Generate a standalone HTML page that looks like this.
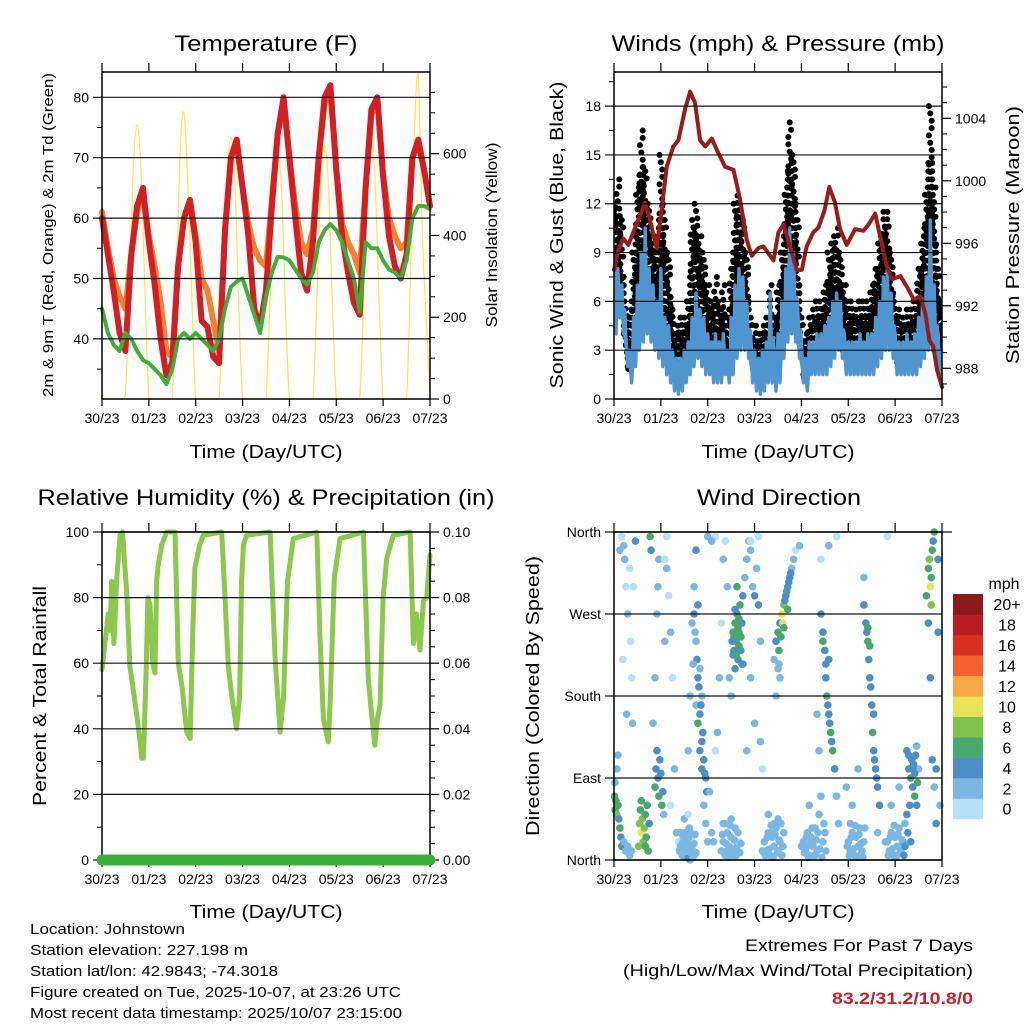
<!DOCTYPE html>
<html><head><meta charset="utf-8"><style>
html,body{margin:0;padding:0;background:#fff;}
svg{display:block;font-family:"Liberation Sans",Arial,sans-serif;}
</style></head><body>
<svg id="chart" xmlns="http://www.w3.org/2000/svg" width="1024" height="1024" viewBox="0 0 1024 1024">
<rect width="1024" height="1024" fill="#fff"/>
<g id="layer"></g>
<g font-size="22" text-anchor="middle" fill="#000">
<text x="266" y="51" textLength="183" lengthAdjust="spacingAndGlyphs">Temperature (F)</text>
<text x="778" y="51" textLength="333" lengthAdjust="spacingAndGlyphs">Winds (mph) &amp; Pressure (mb)</text>
<text x="266" y="505" textLength="457" lengthAdjust="spacingAndGlyphs">Relative Humidity (%) &amp; Precipitation (in)</text>
<text x="779" y="505" textLength="164" lengthAdjust="spacingAndGlyphs">Wind Direction</text>
</g>
<g font-size="18" text-anchor="middle" fill="#000">
<text x="266" y="458" textLength="153" lengthAdjust="spacingAndGlyphs">Time (Day/UTC)</text>
<text x="778" y="458" textLength="153" lengthAdjust="spacingAndGlyphs">Time (Day/UTC)</text>
<text x="266" y="918" textLength="153" lengthAdjust="spacingAndGlyphs">Time (Day/UTC)</text>
<text x="778" y="918" textLength="153" lengthAdjust="spacingAndGlyphs">Time (Day/UTC)</text>
<text transform="translate(53,235) rotate(-90)" font-size="15" textLength="324" lengthAdjust="spacingAndGlyphs">2m &amp; 9m T (Red, Orange) &amp; 2m Td (Green)</text>
<text transform="translate(497,235) rotate(-90)" font-size="16" textLength="185" lengthAdjust="spacingAndGlyphs">Solar Insolation (Yellow)</text>
<text transform="translate(563,235) rotate(-90)" textLength="307" lengthAdjust="spacingAndGlyphs">Sonic Wind &amp; Gust (Blue, Black)</text>
<text transform="translate(1019,235) rotate(-90)" textLength="258" lengthAdjust="spacingAndGlyphs">Station Pressure (Maroon)</text>
<text transform="translate(46,696) rotate(-90)" textLength="220" lengthAdjust="spacingAndGlyphs">Percent &amp; Total Rainfall</text>
<text transform="translate(539,696) rotate(-90)" textLength="280" lengthAdjust="spacingAndGlyphs">Direction (Colored By Speed)</text>
</g>
<g font-size="15" fill="#000">
<text x="30" y="934" textLength="155" lengthAdjust="spacingAndGlyphs">Location: Johnstown</text>
<text x="30" y="955" textLength="218" lengthAdjust="spacingAndGlyphs">Station elevation: 227.198 m</text>
<text x="30" y="976" textLength="248" lengthAdjust="spacingAndGlyphs">Station lat/lon: 42.9843; -74.3018</text>
<text x="30" y="997" textLength="371" lengthAdjust="spacingAndGlyphs">Figure created on Tue, 2025-10-07, at 23:26 UTC</text>
<text x="30" y="1018" textLength="372" lengthAdjust="spacingAndGlyphs">Most recent data timestamp: 2025/10/07 23:15:00</text>
</g>
<g font-size="17" fill="#000" text-anchor="end">
<text x="973" y="951" textLength="228" lengthAdjust="spacingAndGlyphs">Extremes For Past 7 Days</text>
<text x="973" y="976" textLength="350" lengthAdjust="spacingAndGlyphs">(High/Low/Max Wind/Total Precipitation)</text>
<text x="973" y="1004" fill="#C8202A" font-weight="bold" textLength="141" lengthAdjust="spacingAndGlyphs">83.2/31.2/10.8/0</text>
</g>
</svg>
<script>
const dayLabels=["30/23","01/23","02/23","03/23","04/23","05/23","06/23","07/23"];
const temp2m=[60,54,48,41,38,54,62,65,56,49,40,34,36,52,60,63,56,43,42,37,36,58,70,73,65,57,45,42,48,62,74,80,70,60,51,48,56,70,80,82,68,57,51,46,44,65,78,80,67,57,52,50,54,70,73,68,62];
const temp9m=[61,55,50,47,45,54,61,64,57,52,46,38,37,52,60,63,57,50,48,43,38,58,70,72,65,59,55,53,52,63,74,79,70,62,56,54,58,70,79,81,68,59,56,54,51,65,77,80,67,60,57,55,56,70,72,68,62];
const dewpoint=[45,41,39,38,41,40,38,36.5,36,35,34,32.5,35,40,41,40,41,40,39,38,40,45,48.6,49.5,50,47,44,41,47,51,53.6,53.5,53,51.5,50,49,51,56,58,59,58,56,53,50,44.5,56,55,55,53,51.5,51,50,53,60,62,62,61.5];
const solar=[0,0,0,0,0,0,10,250,560,670,560,260,0,0,0,0,0,0,0,260,600,700,520,250,0,0,0,0,0,0,0,240,540,640,540,230,0,0,0,0,0,0,0,230,520,605,510,220,0,0,0,0,0,0,0,240,530,620,520,230,0,0,0,0,0,0,0,240,540,630,520,230,0,0,0,0,0,0,0,300,650,790,420,200,20];
const windHigh=[8.5,8,7,4,3,5,7,9,10.5,8,7,6,8,5,4.5,3,2.5,2.5,3,3.5,5,6.5,5.5,5,4,3.5,4,3.5,4,3,5,7,8,7.5,6,4,3,2.5,3,3.5,6.5,3,4,6,8,10.5,9,6,3.5,2.5,3.5,3.5,4,4,4.5,5,6,6.5,6,4,3.5,3.5,3.5,4,3.5,4,4,5,6,7.5,8,6.5,4,3.5,3.5,4,3.5,4,5,6,7.5,11,7,4,3];
const windLow=[4,5,4,2,1,2,3,3.5,4,3.5,3,2.5,2,1.5,1,0.5,0.3,0.5,1,1.5,2,2.5,2,1.5,1.5,1,1,1,1.5,1,1.5,2.5,3,3,2.5,1,0.5,0.3,0.5,1,1,0.5,1,2.5,3.5,4,3.5,2.5,1,0.5,1.5,1.5,1.5,1.5,1.5,2,2.5,3,2.5,1.5,1.5,1.5,1.5,1.5,1.5,1.5,1.5,2,2.5,3,3,2.5,1.5,1.5,1.5,1.5,1.5,1.5,2,2.5,3,3,2,1.5,1];
const gust=[12,13.5,11,6,5,9,13,16.5,14,12,10,9,15,11,9,5.5,4.5,5,5,6,11,12,10,9,7,6,7.5,6,7,5,8,12,12.5,11,9,5,4.5,4,4.5,5,7,5,7,9,13,17,15,11,5,4,5,5.5,6,6,7,9,10,10.5,9,7,6,6,5.5,6,6,6,7,8,10,11.5,11.5,9,6,5.5,5,5.5,5.5,6,8,10,13,18,13,8,6];
const pressureHours=[0,2.2,4.8,7.3,9.9,15.9,18.4,21.8,24.4,27,30.4,33,36.4,39,41.5,44.1,46.7,50.1,52.6,56.9,61.2,64.6,68,70.6,74,76.5,81.7,84.2,86.8,90.2,93.6,96.2,98.7,102.1,104.7,107.8,110.3,113.2,115.8,119.2,123.5,127.8,130.4,133.8,136.4,139.8,142.4,146.7,150.1,153.5,156.9,159.5,161.5,163.5,165.5,168];
const pressureValues=[994.3,995.6,996.3,995.9,996.7,998.6,997.5,995.7,998.1,1000.9,1002.2,1002.6,1004.6,1005.7,1005,1002.6,1002.2,1002.7,1002,1000.9,1000.7,998.8,996.2,995.2,995.7,995.8,994.9,996.7,997.2,995.8,994.3,994.3,995.8,996.7,997,998.1,999.6,998.6,996.9,995.9,996.9,996.8,997.2,997.9,996.4,994.5,993.7,993.9,993.2,992.4,992.6,991.5,989.8,989.4,987.9,986.8];
const rhHours=[0,1.5,3.2,4.2,4.9,6.1,7.5,9.2,10.5,12.6,14.3,16,17.8,19.5,20.3,21.2,22.5,23.5,24.6,26,27.1,28,28.8,30.6,33.1,37.4,39.1,41,43.4,45.1,46.5,47.6,50,51.9,61.3,63,64.7,66.5,68.9,70.5,71.5,72.4,74,86.1,88.6,90,91.2,93,95,98,110,111.5,113.4,115.9,117,119,121.9,133.9,136.4,138,139.8,141,142.4,144,145.8,149.2,157.8,159.5,161,162.9,164.6,166.3,168];
const rhValues=[58,66,75,70,85,66,85,99,100,82,59,52,44,36,31,31,55,80,78,60,57,85,90,96,100,100,60,53,39,37,70,89,96,99,100,80,59,50,40,50,85,96,99,100,62,50,39,50,85,98,100,70,43,36,50,86,98,100,55,45,35,43,47,80,92,99,100,66,75,64,79,80,93];
const precipHours=[0,168];
const precipValues=[0,0];
const speedColors=["#B5E1F7","#7AB8E3","#4A8FC7","#48A76B","#7DC24A","#E6E25A","#F7A844","#F0622A","#D7301F","#B81C22","#8B1A1A"];
const speedLabels=["0","2","4","6","8","10","12","14","16","18","20+"];
const windDirObs=[[0.3,70,6],[0.5,55,7],[1,65,6],[1.5,50,8],[2,60,6],[2.5,45,5],[3,35,6],[3.5,25,5],[4,15,4],[5,20,3],[0.5,85,3],[1.5,100,2],[2,115,2],[6,10,2],[7,15,3],[8,5,2],[9,10,3],
[4,355,1],[5,345,2],[5.5,330,2],[6,300,1],[7,270,2],[8,320,1],[8.5,240,0],[9,200,1],[9.5,150,2],[4.5,220,1],[6.5,160,3],[3,340,2],[10,300,1],[11,350,4],
[13,40,8],[13.5,55,7],[14,30,10],[14.5,45,9],[15,20,8],[15.5,35,8],[16,50,7],[16.5,25,6],[17,60,7],[17.5,10,6],[18,40,5],[12.5,15,8],[18.5,355,6],[19,340,4],[14,65,6],[16,15,7],
[21,80,6],[21.5,100,5],[22,120,4],[22.5,90,4],[23,70,6],[23.5,110,4],[24,95,4],[24.5,60,7],[25,75,4],[25.5,50,3],[20,150,3],[21,200,3],[22,270,2],[22.5,300,2],[23,330,2],[26,330,1],[27,320,2],[28,290,1],[29,250,2],[30,200,1],[31,100,2],[32,30,2],[33,20,1],[29,60,1],[27,355,1],[26,240,2],
[34,15,2],[35,5,2],[35.5,25,2],[36,10,3],[36.5,30,2],[37,5,1],[37.5,20,2],[38,10,2],[38.5,35,2],[39,0,3],[39.5,15,2],[40,25,1],[41,5,2],[36,45,2],[38,50,1],
[34.5,8,2],[35,18,2],[35.8,3,2],[36.3,20,2],[37,28,2],[37.3,12,2],[38,2,4],[38.3,25,2],[39,8,2],[39.2,30,2],[40,12,2],[40.5,3,2],[41,18,2],[41.5,28,2],[42,8,2],[33.5,10,2],[34,30,2],
[38,120,3],[39,180,2],[40,260,3],[41,270,4],[42,240,3],[43,200,4],[44,160,4],[45,130,4],[46,110,4],[47,90,4],[43,150,6],[44,120,4],[41,300,2],[42,340,4],[46,60,2],[47,40,2],[48,20,3],[45,180,3],[44,210,3],[43,280,4],[42,170,2],[45,100,5],
[43.5,190,4],[44.5,170,4],[45.5,140,4],[42.5,220,4],[46.5,95,4],[47.5,75,4],[41.5,250,2],[40.5,215,2],
[49,75,2],[50,30,2],[51,20,2],[52,120,1],[53,140,2],[54,200,2],[55,260,1],[56,330,2],[57,350,1],[58,300,2],[52,355,1],[50,350,2],[48,355,2],
[55,10,2],[56,20,2],[57,5,2],[58,30,2],[59,15,2],[60,25,2],[61,5,2],[62,35,2],[63,15,2],[64,20,1],[56,40,2],[60,45,3],[58,10,2],[62,10,2],
[55.5,28,2],[56.5,8,2],[57.5,18,2],[58.5,3,2],[59.5,38,2],[60.5,12,2],[61.5,22,2],[62.5,5,2],[63.5,30,2],[64.5,8,2],[65,18,2],[57,40,2],
[61,250,6],[61.5,230,5],[62,260,6],[62.5,240,6],[63,270,7],[63.5,220,5],[64,250,6],[64.5,280,6],[65,230,4],[65.5,260,4],[66,290,4],[62,210,5],[63,300,6],[66,215,4],[61,225,4],[64,235,6],[60,180,2],[59,200,2],
[61.5,245,6],[62.5,225,6],[63.5,255,6],[64,265,6],[65,245,6],[62,275,4],[60.5,240,4],[65.5,215,4],
[67,310,3],[68,330,2],[69,350,2],[70,340,2],[71,300,3],[72,290,4],[73,320,2],[74,280,4],[75,240,2],[70,200,2],[72,150,2],[75,130,2],[76,100,1],[70,350,1],[74,355,1],[68,120,2],
[77,20,2],[78,10,2],[79,30,2],[80,5,2],[81,25,2],[82,15,2],[83,35,2],[84,10,2],[85,20,2],[86,5,2],[79,50,2],[84,45,3],[80,30,2],[82,40,2],
[77.5,5,2],[78.5,25,2],[79.5,12,2],[80.5,38,2],[81.5,3,2],[82.5,28,2],[83.5,8,2],[84.5,22,2],[85.5,40,2],[86.5,15,2],[87,30,2],[76,10,2],
[82,220,3],[83,240,4],[84,250,6],[84.5,230,6],[85,260,4],[86,270,10],[86.5,260,10],[87,280,8],[88,290,4],[89,300,4],[90,310,4],[91,320,3],[84,210,2],[85,200,3],[83,180,2],[92,330,2],[93,340,1],[95,345,2],[89,275,6],[87,255,6],[85.5,245,6],
[88.5,295,4],[89.5,305,4],[90.5,315,4],[87.5,285,4],[84.5,215,2],
[97,20,2],[98,10,2],[99,30,2],[100,5,2],[101,25,2],[102,15,2],[103,35,2],[104,10,2],[105,50,2],[106,70,2],[107,20,2],[108,30,2],[100,60,2],[99,15,2],[103,5,2],
[97.5,8,2],[98.5,25,2],[99.5,3,2],[100.5,18,2],[101.5,35,2],[102.5,5,2],[103.5,22,2],[104.5,30,2],[105.5,12,2],[106.5,3,2],[107.5,40,2],[108.5,10,2],[96,15,2],
[106,270,4],[107,250,4],[108,230,4],[108.5,200,4],[109,180,6],[110,160,4],[111,140,6],[112,120,6],[113,100,4],[114,70,3],[115,40,3],[110,220,4],[106,330,1],[110,345,2],[114,355,1],[104,160,2],[105,120,2],[107,240,6],
[108.5,215,4],[109.5,170,4],[110.5,150,4],[111.5,130,4],
[120,20,2],[121,10,2],[122,30,2],[123,5,2],[124,25,2],[125,15,2],[126,35,2],[127,10,2],[128,20,2],[122,60,2],[125,100,2],[119,80,2],[121,40,2],[126,5,2],
[120.5,5,2],[121.5,25,2],[122.5,12,2],[123.5,38,2],[124.5,3,2],[125.5,28,2],[126.5,18,2],[127.5,3,2],[128.5,35,2],[119.5,15,2],
[128,280,4],[129,260,4],[130,240,6],[130.5,220,4],[131,200,4],[132,170,4],[132.5,140,6],[133,120,4],[134,100,4],[135,80,4],[136,60,4],[130,255,6],[131,235,6],[128,310,2],[135,30,2],[140,355,1],[133,160,4],
[129.5,250,4],[131.5,190,4],[133.5,110,4],[134.5,90,4],
[140,20,2],[141,10,2],[142,30,2],[143,5,2],[144,25,2],[145,15,2],[146,35,2],[147,10,2],[148,20,4],[146,80,2],[142,60,2],[144,5,2],[139,20,2],
[140.5,5,2],[141.5,25,2],[142.5,12,2],[143.5,38,2],[144.5,3,2],[145.5,28,2],[146.5,8,2],[147.5,22,2],[148.5,5,4],[149,15,4],
[150,120,4],[151,100,4],[152,90,6],[152.5,110,4],[153,80,4],[154,70,6],[155,60,4],[150,50,4],[149,40,2],[156,100,2],[155,125,3],[154,95,4],[151,115,4],[153,100,5],
[150.5,30,4],[151.5,60,4],[152,20,4],[153.5,105,4],[154.5,115,4],[155.5,85,6],
[160,290,6],[161,320,6],[161.5,330,8],[162,300,10],[162.5,280,8],[163,340,6],[164,360,6],[163.5,350,4],[161,260,4],[162,200,4],[163,110,4],[164,80,2],[165,100,4],[166,250,4],[166,330,4],[167,60,2],[165,40,4],[162.5,310,6]];

const NS="http://www.w3.org/2000/svg";
const layer=document.getElementById('layer');
function mk(tag,attrs,parent){const e=document.createElementNS(NS,tag);for(const k in attrs)e.setAttribute(k,attrs[k]);(parent||layer).appendChild(e);return e;}
function xScale(x0,x1){return t=>x0+t/168*(x1-x0);}
function lin(d0,d1,p0,p1){return v=>p0+(v-d0)/(d1-d0)*(p1-p0);}

function panelFrame(x0,x1,y0,y1,name){
  const g=mk('g',{});
  
  
  const xs=xScale(x0,x1);
  dayLabels.forEach((lab,i)=>{
    const x=xs(i*24);
    mk('line',{x1:x,x2:x,y1:y0-9,y2:y0,stroke:'#000','stroke-width':1.2},g);
    mk('line',{x1:x,x2:x,y1:y1,y2:y1+7,stroke:'#000','stroke-width':1.2},g);
    const t=mk('text',{x:x,y:y1+24,'font-size':14,'text-anchor':'middle'},g);
    
    
    t.textContent=lab;
  });
  return g;
}
function leftAxis(g,ticks,labels,ys,x0,x1,minor,grid){
  ticks.forEach((v,i)=>{
    const y=ys(v);
    if(grid) mk('line',{x1:x0-9,x2:x1,y1:y,y2:y,stroke:'#111','stroke-width':1.2},g);
    else mk('line',{x1:x0-9,x2:x0,y1:y,y2:y,stroke:'#000','stroke-width':1.2},g);
    const t=mk('text',{x:x0-13,y:y+5,'font-size':14,'text-anchor':'end'},g);
    
    
    t.textContent=labels[i];
  });
  (minor||[]).forEach(v=>{const y=ys(v);mk('line',{x1:x0-5,x2:x0,y1:y,y2:y,stroke:'#000','stroke-width':1},g);});
}
function rightAxis(g,ticks,labels,ys,x1,minor){
  ticks.forEach((v,i)=>{
    const y=ys(v);
    mk('line',{x1:x1,x2:x1+9,y1:y,y2:y,stroke:'#000','stroke-width':1.2},g);
    const t=mk('text',{x:x1+13,y:y+5,'font-size':14,'text-anchor':'start'},g);
    
    
    t.textContent=labels[i];
  });
  (minor||[]).forEach(v=>{const y=ys(v);mk('line',{x1:x1,x2:x1+5,y1:y,y2:y,stroke:'#000','stroke-width':1},g);});
}
function box(g,x0,x1,y0,y1){mk('rect',{x:x0,y:y0,width:x1-x0,height:y1-y0,fill:'none',stroke:'#000','stroke-width':1.5},g);}
function path(pts,attrs,name){const p=mk('path',Object.assign({d:'M'+pts.map(q=>q[0].toFixed(1)+','+q[1].toFixed(1)).join('L'),fill:'none','stroke-linejoin':'round','stroke-linecap':'round'},attrs));return p;}
function smoothPath(pts,attrs,name){
  let d='M'+pts[0][0].toFixed(1)+','+pts[0][1].toFixed(1);
  for(let i=0;i<pts.length-1;i++){
    const p0=pts[Math.max(0,i-1)],p1=pts[i],p2=pts[i+1],p3=pts[Math.min(pts.length-1,i+2)];
    const c1=[p1[0]+(p2[0]-p0[0])/6,p1[1]+(p2[1]-p0[1])/6],c2=[p2[0]-(p3[0]-p1[0])/6,p2[1]-(p3[1]-p1[1])/6];
    d+='C'+c1[0].toFixed(1)+','+Math.min(399,c1[1]).toFixed(1)+' '+c2[0].toFixed(1)+','+Math.min(399,c2[1]).toFixed(1)+' '+p2[0].toFixed(1)+','+p2[1].toFixed(1);
  }
  const p=mk('path',Object.assign({d:d,fill:'none'},attrs));return p;
}

// ---------- Temperature panel ----------
(function(){
  const x0=102,x1=430,y0=72,y1=399;
  const xs=xScale(x0,x1), yT=lin(30.05,80,399,97.3), yS=lin(0,600,399,153.7);
  const g=panelFrame(x0,x1,y0,y1,'temperature');
  leftAxis(g,[40,50,60,70,80],["40","50","60","70","80"],yT,x0,x1,[35,45,55,65,75],true);
  rightAxis(g,[0,200,400,600],["0","200","400","600"],yS,x1,[50,100,150,250,300,350,450,500,550,650,700,750]);
  smoothPath(solar.map((v,i)=>[xs(i*2),yS(v)]),{stroke:'#FFE34D','stroke-width':1.2},'solar-insolation-line');
  path(temp9m.map((v,i)=>[xs(i*3),yT(v)]),{stroke:'#F4812E','stroke-width':6},'temp-9m-line');
  path(temp2m.map((v,i)=>[xs(i*3),yT(v)]),{stroke:'#D41E23','stroke-width':6},'temp-2m-line');
  path(dewpoint.map((v,i)=>[xs(i*3),yT(v)]),{stroke:'#3DAE3A','stroke-width':4,'stroke-dasharray':'3 1'},'dewpoint-line');
  box(g,x0,x1,y0,y1);
  layer.appendChild(g);
})();

// ---------- Winds panel ----------
(function(){
  const x0=614,x1=942,y0=72,y1=399;
  const xs=xScale(x0,x1), yW=lin(0,18,399,106.1), yP=lin(988,1004,368.3,118.3);
  const g=panelFrame(x0,x1,y0,y1,'winds');
  leftAxis(g,[0,3,6,9,12,15,18],["0","3","6","9","12","15","18"],yW,x0,x1,[1.5,4.5,7.5,10.5,13.5,16.5,19.5],true);
  rightAxis(g,[988,992,996,1000,1004],["988","992","996","1000","1004"],yP,x1,[987,989,990,991,993,994,995,997,998,999,1001,1002,1003,1005,1006]);
  const clip=mk('clipPath',{id:'wclip'});mk('rect',{x:x0,y:y0,width:x1-x0,height:y1-y0},clip);
  const dots=mk('g',{'clip-path':'url(#wclip)'});
  
  
  gust.forEach((gv,i)=>{
    const lo=windHigh[i]-1.5;
    for(let v=gv;v>=lo;v-=0.45){
      mk('circle',{cx:xs(i*2+((Math.round(v*5))%3-1)*0.7),cy:yW(v),r:3,fill:'#000'},dots);
    }
    if(i<gust.length-1){
      const top=(gv+gust[i+1])/2-1, bot=(windHigh[i]+windHigh[i+1])/2-1.5;
      for(let v=top;v>=bot;v-=0.5){
        mk('circle',{cx:xs(i*2+1),cy:yW(v),r:3,fill:'#000'},dots);
      }
    }
  });
  const area=[];
  windHigh.forEach((v,i)=>area.push([xs(i*2),yW(v-0.8)]));
  for(let i=windLow.length-1;i>=0;i--)area.push([xs(i*2),yW(windLow[i]+0.6)]);
  const ar=mk('polygon',{points:area.map(q=>q[0].toFixed(1)+','+q[1].toFixed(1)).join(' '),fill:'#4F95D0','clip-path':'url(#wclip)'});
  
  
  const zig=[];
  windHigh.forEach((v,i)=>{zig.push([xs(i*2),yW(v)]);zig.push([xs(i*2+1),yW(windLow[i])]);zig.push([xs(i*2+1.5),yW((v+windLow[i])/2)]);});
  const wl=path(zig,{stroke:'#4F95D0','stroke-width':3.5},'sonic-wind-line');wl.setAttribute('clip-path','url(#wclip)');
  path(pressureHours.map((t,i)=>[xs(t),yP(pressureValues[i])]),{stroke:'#9B1B1B','stroke-width':4},'pressure-line');
  box(g,x0,x1,y0,y1);
  layer.appendChild(g);
})();

// ---------- RH panel ----------
(function(){
  const x0=102,x1=430,y0=532,y1=860;
  const xs=xScale(x0,x1), yR=lin(0,100,860,532), yPr=lin(0,0.1,860,532);
  const g=panelFrame(x0,x1,y0,y1,'humidity');
  leftAxis(g,[0,20,40,60,80,100],["0","20","40","60","80","100"],yR,x0,x1,[10,30,50,70,90],true);
  rightAxis(g,[0,0.02,0.04,0.06,0.08,0.1],["0.00","0.02","0.04","0.06","0.08","0.10"],yPr,x1,[0.005,0.01,0.015,0.025,0.03,0.035,0.045,0.05,0.055,0.065,0.07,0.075,0.085,0.09,0.095]);
  path(rhHours.map((t,i)=>[xs(t),yR(rhValues[i])]),{stroke:'#8CC84B','stroke-width':5},'relative-humidity-line');
  box(g,x0,x1,y0,y1);
  layer.appendChild(g);
  path(precipHours.map((t,i)=>[xs(t),yPr(precipValues[i])]),{stroke:'#3DAE3A','stroke-width':11},'precipitation-line');
})();

// ---------- Wind direction panel ----------
(function(){
  const x0=614,x1=942,y0=532,y1=860;
  const xs=xScale(x0,x1), yD=lin(0,360,860,532);
  const g=panelFrame(x0,x1,y0,y1,'wind-direction');
  leftAxis(g,[0,90,180,270,360],["North","East","South","West","North"],yD,x0,x1,[],true);
  mk('line',{x1:x1,x2:x1+10,y1:532,y2:532,stroke:'#000','stroke-width':1.2},g);
  const dg=mk('g',{});
  
  
  windDirObs.forEach(o=>{
    const idx=Math.min(10,Math.floor(o[2]/2));
    const c=mk('circle',{cx:xs(o[0]),cy:yD(o[1]),r:3.8,fill:speedColors[idx]},dg);
    
    
  });
  box(g,x0,x1,y0,y1);
  layer.appendChild(g);
  const cb=mk('g',{});
  
  
  const by0=594,bh=20.45;
  speedLabels.forEach((lab,i)=>{
    const y=by0+(10-i)*bh;
    mk('rect',{x:953,y:y,width:30,height:bh+0.3,fill:speedColors[i]},cb);
    const t=mk('text',{x:1007,y:y+bh/2+6,'font-size':16,'text-anchor':'middle'},cb);
    
    
    t.textContent=lab;
  });
  const u=mk('text',{x:1004,y:589,'font-size':16,'text-anchor':'middle'},cb);
  
  
  u.textContent='mph';
})();
</script>
</body></html>
